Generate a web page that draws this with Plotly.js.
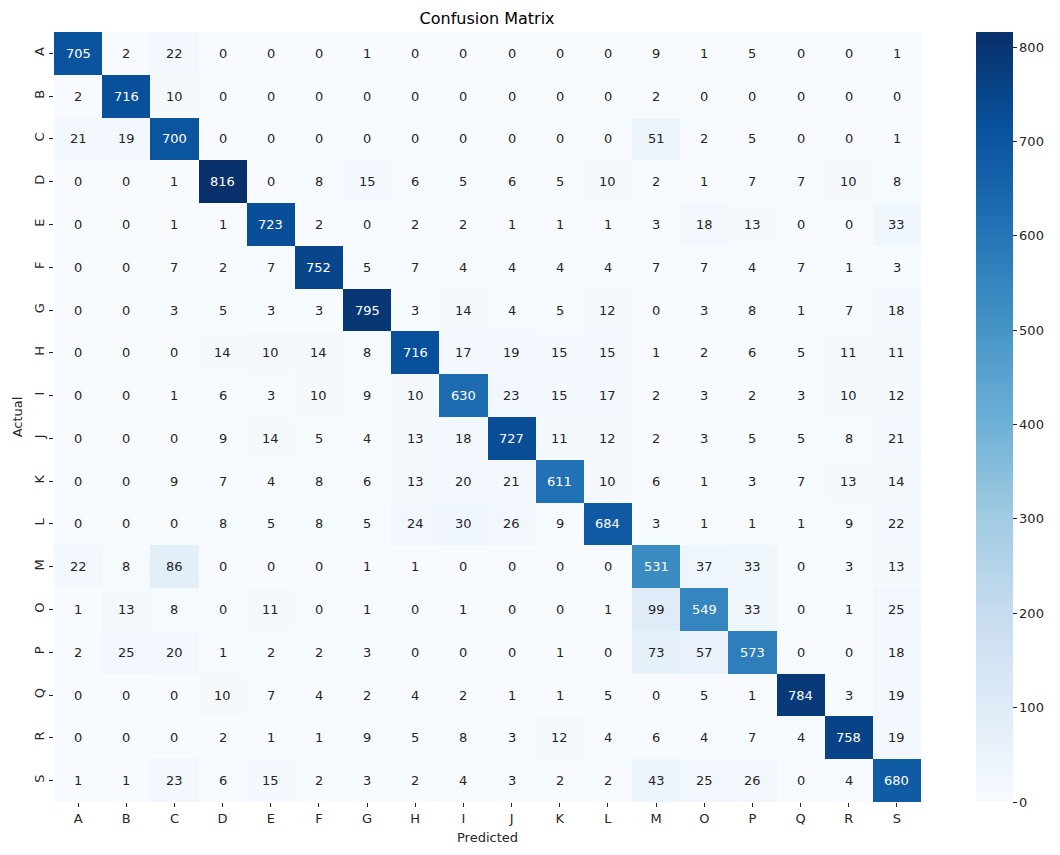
<!DOCTYPE html>
<html>
<head>
<meta charset="utf-8">
<script src="https://cdn.plot.ly/plotly-3.0.1.min.js"></script>
<style>html,body{margin:0;padding:0;background:#fff;}#chart{width:1060px;height:855px;}</style>
</head>
<body>
<div id="chart"></div>
<script>
const labels = ["A","B","C","D","E","F","G","H","I","J","K","L","M","O","P","Q","R","S"];
const rowA = [705,2,22,0,0,0,1,0,0,0,0,0,9,1,5,0,0,1];
const rowB = [2,716,10,0,0,0,0,0,0,0,0,0,2,0,0,0,0,0];
const rowC = [21,19,700,0,0,0,0,0,0,0,0,0,51,2,5,0,0,1];
const rowD = [0,0,1,816,0,8,15,6,5,6,5,10,2,1,7,7,10,8];
const rowE = [0,0,1,1,723,2,0,2,2,1,1,1,3,18,13,0,0,33];
const rowF = [0,0,7,2,7,752,5,7,4,4,4,4,7,7,4,7,1,3];
const rowG = [0,0,3,5,3,3,795,3,14,4,5,12,0,3,8,1,7,18];
const rowH = [0,0,0,14,10,14,8,716,17,19,15,15,1,2,6,5,11,11];
const rowI = [0,0,1,6,3,10,9,10,630,23,15,17,2,3,2,3,10,12];
const rowJ = [0,0,0,9,14,5,4,13,18,727,11,12,2,3,5,5,8,21];
const rowK = [0,0,9,7,4,8,6,13,20,21,611,10,6,1,3,7,13,14];
const rowL = [0,0,0,8,5,8,5,24,30,26,9,684,3,1,1,1,9,22];
const rowM = [22,8,86,0,0,0,1,1,0,0,0,0,531,37,33,0,3,13];
const rowO = [1,13,8,0,11,0,1,0,1,0,0,1,99,549,33,0,1,25];
const rowP = [2,25,20,1,2,2,3,0,0,0,1,0,73,57,573,0,0,18];
const rowQ = [0,0,0,10,7,4,2,4,2,1,1,5,0,5,1,784,3,19];
const rowR = [0,0,0,2,1,1,9,5,8,3,12,4,6,4,7,4,758,19];
const rowS = [1,1,23,6,15,2,3,2,4,3,2,2,43,25,26,0,4,680];
const matrix = [rowA,rowB,rowC,rowD,rowE,rowF,rowG,rowH,rowI,rowJ,rowK,rowL,rowM,rowO,rowP,rowQ,rowR,rowS];

const blues = [
  [0.0,'#f7fbff'],[0.125,'#deebf7'],[0.25,'#c6dbef'],[0.375,'#9ecae1'],
  [0.5,'#6baed6'],[0.625,'#4292c6'],[0.75,'#2171b5'],[0.875,'#08519c'],[1.0,'#08306b']
];
const zmax = Math.max(...matrix.map(r => Math.max(...r)));

const annotations = [];
matrix.forEach((row, i) => {
  row.forEach((v, j) => {
    annotations.push({
      x: labels[j], y: labels[i], text: String(v), showarrow: false,
      font: {family: 'DejaVu Sans', size: 13, color: v > zmax * 0.55 ? '#ffffff' : '#262626'}
    });
  });
});

const font = {family: 'DejaVu Sans, sans-serif', size: 13, color: '#262626'};

Plotly.newPlot('chart', [{
  type: 'heatmap', z: matrix, x: labels, y: labels,
  colorscale: blues, zmin: 0, zmax: zmax, hoverinfo: 'skip',
  colorbar: {
    x: 1.0634, xanchor: 'left', xref: 'paper', xpad: 0, ypad: 0, thickness: 37, len: 1, lenmode: 'fraction',
    y: 0.5, yanchor: 'middle', outlinewidth: 0, tick0: 0, dtick: 100,
    ticks: 'outside', ticklen: 4, tickcolor: '#262626', tickfont: font
  }
}], {
  width: 1060, height: 855,
  margin: {l: 54, r: 139, t: 32, b: 53},
  paper_bgcolor: '#ffffff', plot_bgcolor: '#ffffff',
  font: font,
  title: {text: 'Confusion Matrix', x: 0.4595, xanchor: 'center', y: 0.979, yanchor: 'middle', font: {family: 'DejaVu Sans', size: 16, color: '#000000'}},
  xaxis: {
    type: 'category', title: {text: 'Predicted', font: font, standoff: 8},
    ticks: 'outside', ticklen: 4, tickcolor: '#262626', showgrid: false, zeroline: false, showline: false, tickfont: font
  },
  yaxis: {
    type: 'category', autorange: 'reversed', title: {text: 'Actual', font: font, standoff: 6},
    ticks: 'outside', ticklen: 4, tickcolor: '#262626', tickangle: -90, showgrid: false, zeroline: false, showline: false, tickfont: font
  },
  annotations: annotations
}, {displayModeBar: false});
</script>
</body>
</html>
